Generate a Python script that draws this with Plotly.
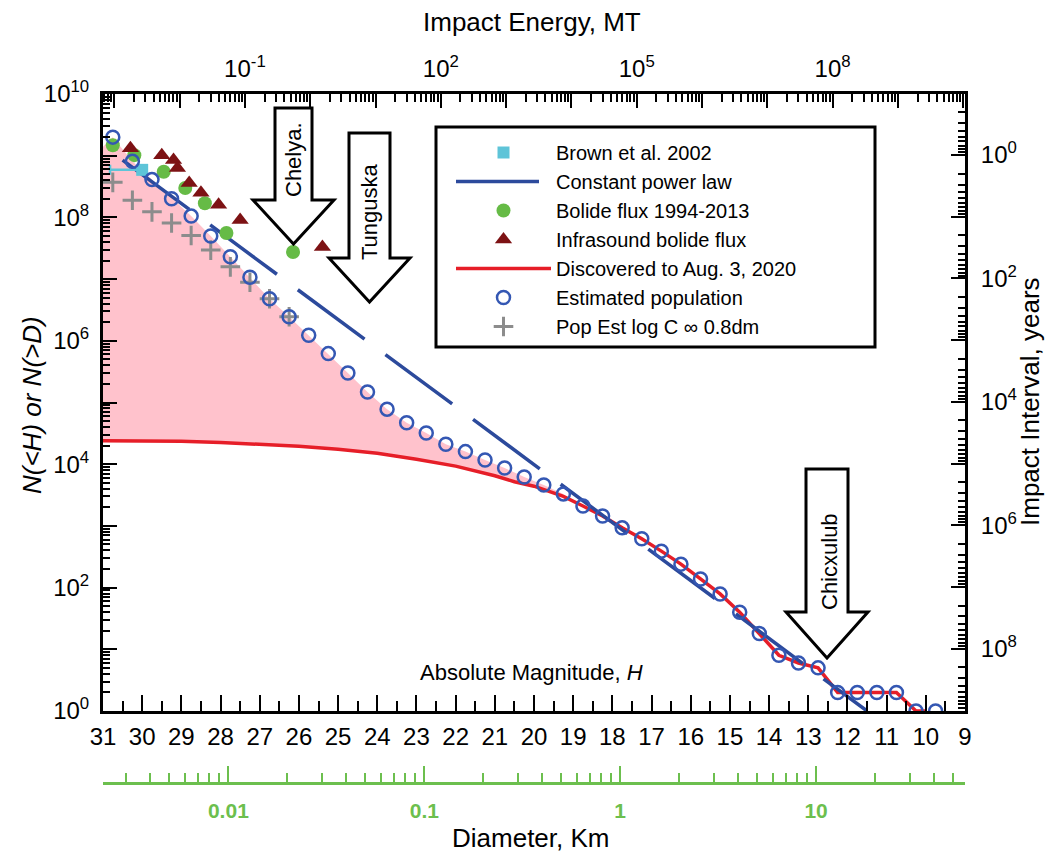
import plotly.graph_objects as go

# ---------------- data ----------------
H_tick_vals = [31, 30, 29, 28, 27, 26, 25, 24, 23, 22, 21, 20, 19, 18, 17, 16, 15, 14, 13, 12, 11, 10, 9]
H_tick_text = ["31", "30", "29", "28", "27", "26", "25", "24", "23", "22", "21", "20",
               "19", "18", "17", "16", "15", "14", "13", "12", "11", "10", "9"]
H_minor_vals = [30.5, 29.5, 28.5, 27.5, 26.5, 25.5, 24.5, 23.5, 22.5, 21.5, 20.5,
                19.5, 18.5, 17.5, 16.5, 15.5, 14.5, 13.5, 12.5, 11.5, 10.5, 9.5]

# Estimated population (open blue circles)
est_H = [30.75, 30.25, 29.75, 29.25, 28.75, 28.25, 27.75, 27.25, 26.75, 26.25, 25.75, 25.25,
         24.75, 24.25, 23.75, 23.25, 22.75, 22.25, 21.75, 21.25, 20.75, 20.25, 19.75, 19.25,
         18.75, 18.25, 17.75, 17.25, 16.75, 16.25, 15.75, 15.25, 14.75, 14.25, 13.75, 13.25,
         12.75, 12.25, 11.75, 11.25, 10.75, 10.25, 9.75]
est_N = [2.0e9, 8.1e8, 4.1e8, 2.0e8, 1.05e8, 5.0e7, 2.3e7, 1.07e7, 4.8e6, 2.45e6, 1.23e6, 6.2e5,
         3.0e5, 1.48e5, 7.8e4, 4.7e4, 3.2e4, 2.1e4, 1.6e4, 1.17e4, 8.7e3, 6.2e3, 4.6e3, 3.3e3,
         2.1e3, 1.45e3, 930, 620, 390, 240, 138, 79, 40, 18, 8, 6,
         5, 2, 2, 2, 2, 1, 1]

# upper edge of the pink area at the left axis (H = 31)
pink_left_H = [31.0]
pink_left_N = [1.4e9]

# Discovered to Aug. 3, 2020 (red line)
red_H = [31, 30, 29, 28, 27, 26, 25, 24, 23, 22, 21, 20.5, 20, 19.5, 19.25, 18.75, 18.25,
         17.75, 17.25, 16.75, 16.25, 15.75, 15.25, 14.75, 14.25, 13.75, 13.25, 12.75, 12.25,
         11.75, 11.25, 10.75, 10.25, 10.0]
red_N = [2.4e4, 2.4e4, 2.35e4, 2.25e4, 2.1e4, 1.95e4, 1.75e4, 1.5e4, 1.2e4, 9.3e3, 6.5e3,
         5.2e3, 4.4e3, 3.4e3, 3.0e3, 2.1e3, 1.45e3, 930, 620, 390, 240, 138, 79, 40, 18, 8,
         6, 5, 2, 2, 2, 2, 1, 1]

# Constant power law (blue dashed)
pow_H = [30.5, 11.5]
pow_N = [8.5e8, 1.0]

# Brown et al. 2002
brown_H = [30.0]
brown_N = [5.9e8]
brown_err = [0.82]

# Bolide flux 1994-2013
bolide_H = [30.75, 30.2, 29.45, 28.9, 28.4, 27.85, 26.15]
bolide_N = [1.48e9, 1.02e9, 5.5e8, 3.0e8, 1.7e8, 5.6e7, 2.75e7]

# Infrasound bolide flux
infra_H = [30.3, 29.5, 29.2, 29.1, 28.8, 28.5, 28.05, 27.5, 25.4]
infra_N = [1.32e9, 1.02e9, 8.5e8, 6.3e8, 3.6e8, 2.5e8, 1.6e8, 9.1e7, 3.3e7]

# Pop Est log C ∞ 0.8dm
popest_H = [30.75, 30.25, 29.75, 29.25, 28.75, 28.25, 27.75, 27.25, 26.75, 26.25]
popest_N = [3.7e8, 1.9e8, 1.23e8, 8.1e7, 5.1e7, 2.95e7, 1.58e7, 8.9e6, 4.8e6, 2.45e6]

# Axis tick definitions
N_exponents = [0, 1, 2, 3, 4, 5, 6, 7, 8, 9, 10]
N_labelled = [0, 2, 4, 6, 8, 10]
E_exponents = [-3, -2, -1, 0, 1, 2, 3, 4, 5, 6, 7, 8, 9, 10]
E_labelled = [-1, 2, 5, 8]
I_exponents = [0, 1, 2, 3, 4, 5, 6, 7, 8, 9]
I_labelled = [0, 2, 4, 6, 8]
D_tick_vals = [0.01, 0.1, 1, 10]
D_tick_text = ["0.01", "0.1", "1", "10"]

# conversions between H and the secondary scales
LOG_E_AT_H0 = 15.427      # log10(energy, MT) at H = 0 ; energy ~ 10^(-0.6 H)
LOG_D_AT_H0 = 3.56        # log10(diameter, km) at H = 0 ; D ~ 10^(-0.2 H)
LOG_INTERVAL_N1 = 9.01    # log10(impact interval, yr) for N = 1
H_LEFT, H_RIGHT = 31, 9

# ---------------- styling / layout helpers ----------------
FONT = "Liberation Sans, Arial, sans-serif"
BLUE_LINE = "#2c4a9c"
CIRCLE_BLUE = "#3457b3"
RED = "#e61e28"
PINK = "#ffc2cc"
GREEN = "#66bb46"
AXIS_GREEN = "#6cbf4e"
DARK_RED = "#7d1214"
CYAN = "#5ec4d8"
GRAY = "#8c8c8c"

PLOT_L, PLOT_R = 103, 965
PAPER_T, PAPER_B = 94, 794
Y_BOTTOM = 711
W, Hh = 1054, 854


def px(x):
    return (x - PLOT_L) / (PLOT_R - PLOT_L)


def py(y):
    return (PAPER_B - y) / (PAPER_B - PAPER_T)


def sup(e):
    return "10<sup>%d</sup>" % e


def minor_vals(lo_exp, hi_exp):
    return [k * 10.0 ** e for e in range(lo_exp, hi_exp + 1) for k in range(2, 10)]


fig = go.Figure()

# pink area between discovered and estimated population
top_H = pink_left_H + [h for h in est_H if h >= 19.25]
top_N = pink_left_N + est_N[:len(top_H) - 1]
bot = [(h, n) for h, n in zip(red_H, red_N) if h >= 19.25]
fill_H = top_H + [h for h, n in reversed(bot)]
fill_N = top_N + [n for h, n in reversed(bot)]
fig.add_trace(go.Scatter(x=fill_H, y=fill_N, mode="lines", fill="toself", fillcolor=PINK,
                         line=dict(width=0, color=PINK), showlegend=False, hoverinfo="skip"))

fig.add_trace(go.Scatter(x=red_H, y=red_N, mode="lines", name="Discovered to Aug. 3, 2020",
                         line=dict(color=RED, width=3.5), legendrank=5))
fig.add_trace(go.Scatter(x=pow_H, y=pow_N, mode="lines", name="Constant power law",
                         line=dict(color=BLUE_LINE, width=3.5, dash="83px,26px"), legendrank=2))
fig.add_trace(go.Scatter(x=brown_H, y=brown_N, mode="markers", name="Brown et al. 2002",
                         marker=dict(symbol="square", size=12, color=CYAN),
                         error_x=dict(type="data", symmetric=False, array=brown_err,
                                      arrayminus=[0], color=CYAN, thickness=2.5, width=5),
                         legendrank=1))
fig.add_trace(go.Scatter(x=popest_H, y=popest_N, mode="markers", name="Pop Est log C \u221e 0.8dm",
                         marker=dict(symbol="cross-thin", size=14, color=GRAY,
                                     line=dict(width=3, color=GRAY)), legendrank=7))
fig.add_trace(go.Scatter(x=bolide_H, y=bolide_N, mode="markers", name="Bolide flux 1994-2013",
                         marker=dict(symbol="circle", size=14, color=GREEN), legendrank=3))
fig.add_trace(go.Scatter(x=est_H, y=est_N, mode="markers", name="Estimated population",
                         marker=dict(symbol="circle-open", size=13, color=CIRCLE_BLUE,
                                     line=dict(width=2.5, color=CIRCLE_BLUE)), legendrank=6))
fig.add_trace(go.Scatter(x=infra_H, y=infra_N, mode="markers", name="Infrasound bolide flux",
                         marker=dict(symbol="triangle-up", size=15, color=DARK_RED), legendrank=4))

# invisible anchors for secondary axes
E_tick_vals = [10.0 ** e for e in E_exponents]
I_tick_vals = [10.0 ** e for e in I_exponents]
fig.add_trace(go.Scatter(x=E_tick_vals, y=[1] * len(E_tick_vals), xaxis="x2", yaxis="y",
                         mode="markers", marker=dict(opacity=0), showlegend=False, hoverinfo="skip"))
fig.add_trace(go.Scatter(x=D_tick_vals, y=[1] * len(D_tick_vals), xaxis="x3", yaxis="y",
                         mode="markers", marker=dict(opacity=0), showlegend=False, hoverinfo="skip"))
fig.add_trace(go.Scatter(x=[H_LEFT] * len(I_tick_vals), y=I_tick_vals, xaxis="x", yaxis="y3",
                         mode="markers", marker=dict(opacity=0), showlegend=False, hoverinfo="skip"))

y_domain_bottom = py(Y_BOTTOM)
tickfont = dict(family=FONT, size=24, color="black")

fig.update_layout(
    width=W, height=Hh,
    margin=dict(l=PLOT_L, r=W - PLOT_R, t=PAPER_T, b=Hh - PAPER_B),
    paper_bgcolor="white", plot_bgcolor="white",
    font=dict(family=FONT, color="black"),
    xaxis=dict(range=[H_LEFT, H_RIGHT], tickmode="array", tickvals=H_tick_vals, ticktext=H_tick_text,
               ticks="inside", ticklen=16, tickwidth=2, tickcolor="black",
               minor=dict(tickmode="array", tickvals=H_minor_vals, ticks="inside", ticklen=10,
                          tickwidth=2, tickcolor="black", showgrid=False),
               showline=True, linewidth=3, linecolor="black", mirror=True,
               showgrid=False, zeroline=False, tickfont=tickfont, ticklabelstandoff=2),
    xaxis2=dict(overlaying="x", side="top", anchor="y", type="log",
                range=[LOG_E_AT_H0 - 0.6 * H_LEFT, LOG_E_AT_H0 - 0.6 * H_RIGHT],
                tickmode="array", tickvals=E_tick_vals,
                ticktext=[sup(e) if e in E_labelled else "" for e in E_exponents],
                ticks="inside", ticklen=14, tickwidth=2, tickcolor="black",
                minor=dict(tickmode="array", tickvals=minor_vals(-4, 10), ticks="inside", ticklen=8,
                           tickwidth=2, tickcolor="black", showgrid=False),
                showline=True, linewidth=3, linecolor="black",
                showgrid=False, zeroline=False, tickfont=tickfont, ticklabelstandoff=4),
    xaxis3=dict(overlaying="x", anchor="free", position=py(783), side="bottom", type="log",
                range=[LOG_D_AT_H0 - 0.2 * H_LEFT, LOG_D_AT_H0 - 0.2 * H_RIGHT],
                tickmode="array", tickvals=D_tick_vals, ticktext=D_tick_text,
                ticks="inside", ticklen=16, tickwidth=2, tickcolor=AXIS_GREEN,
                minor=dict(tickmode="array", tickvals=minor_vals(-3, 1), ticks="inside", ticklen=9,
                           tickwidth=2, tickcolor=AXIS_GREEN, showgrid=False),
                showline=True, linewidth=3, linecolor=AXIS_GREEN,
                showgrid=False, zeroline=False,
                tickfont=dict(family=FONT, size=21, color=AXIS_GREEN, weight="bold"),
                ticklabelstandoff=8),
    yaxis=dict(type="log", range=[0, 10], domain=[y_domain_bottom, 1],
               tickmode="array", tickvals=[10.0 ** e for e in N_exponents],
               ticktext=[sup(e) if e in N_labelled else "" for e in N_exponents],
               ticks="inside", ticklen=14, tickwidth=2, tickcolor="black",
               minor=dict(tickmode="array", tickvals=minor_vals(0, 9), ticks="inside", ticklen=7,
                          tickwidth=2, tickcolor="black", showgrid=False),
               showline=True, linewidth=3, linecolor="black", mirror=True,
               showgrid=False, zeroline=False, tickfont=tickfont, ticklabelstandoff=6),
    yaxis3=dict(overlaying="y", side="right", anchor="x", type="log",
                range=[LOG_INTERVAL_N1, LOG_INTERVAL_N1 - 10],
                tickmode="array", tickvals=I_tick_vals,
                ticktext=[sup(e) if e in I_labelled else "" for e in I_exponents],
                ticks="inside", ticklen=14, tickwidth=2, tickcolor="black",
                minor=dict(tickmode="array", tickvals=minor_vals(-1, 9), ticks="inside", ticklen=7,
                           tickwidth=2, tickcolor="black", showgrid=False),
                showline=True, linewidth=3, linecolor="black",
                showgrid=False, zeroline=False, tickfont=tickfont, ticklabelstandoff=8),
    legend=dict(x=px(451), y=py(133), xanchor="left", yanchor="top",
                bgcolor="rgba(0,0,0,0)", borderwidth=0, itemwidth=95,
                font=dict(family=FONT, size=20, color="black"), tracegroupgap=0),
    showlegend=True,
)


def arrow_path(cx, top, half_shaft, head_y, half_head, tip_y):
    pts = [(cx - half_shaft, top), (cx + half_shaft, top), (cx + half_shaft, head_y),
           (cx + half_head, head_y), (cx, tip_y), (cx - half_head, head_y),
           (cx - half_shaft, head_y)]
    return "M " + " L ".join("%.5f,%.5f" % (px(x), py(y)) for x, y in pts) + " Z"


shapes = []
for spec in [(293.5, 108, 18.5, 200, 40.5, 244), (369.5, 133, 20.5, 258, 40.5, 302),
             (827, 469, 21, 612, 41, 658)]:
    shapes.append(dict(type="path", path=arrow_path(*spec), xref="paper", yref="paper",
                       fillcolor="white", line=dict(color="black", width=3), layer="above"))
# legend frame
shapes.append(dict(type="rect", xref="paper", yref="paper", x0=px(436), x1=px(875),
                   y0=py(347), y1=py(127), line=dict(color="black", width=3),
                   fillcolor="rgba(0,0,0,0)", layer="above"))
fig.update_layout(shapes=shapes)


def ann(text, x, y, size, angle=0, **kw):
    return dict(text=text, x=px(x), y=py(y), xref="paper", yref="paper", showarrow=False,
                textangle=angle, xanchor="center", yanchor="middle",
                font=dict(family=FONT, size=size, color=kw.pop("color", "black")), **kw)


fig.update_layout(annotations=[
    ann("Chelya.", 293, 160, 22, -90),
    ann("Tunguska", 369, 212, 22, -90),
    ann("Chicxulub", 829, 562, 22, -90),
    ann("Impact Energy, MT", 532, 22, 26),
    ann("<i>N(&lt;H) or N(&gt;D)</i>", 32, 405, 26, -90),
    ann("Impact Interval, years", 1030, 402, 26, -90),
    ann("Absolute Magnitude, <i>H</i>", 531, 672, 22),
    ann("Diameter, Km", 531, 838, 26),
])

fig.write_html("out.html", config={"displayModeBar": False},
               post_script="document.body.style.margin='0px';")
